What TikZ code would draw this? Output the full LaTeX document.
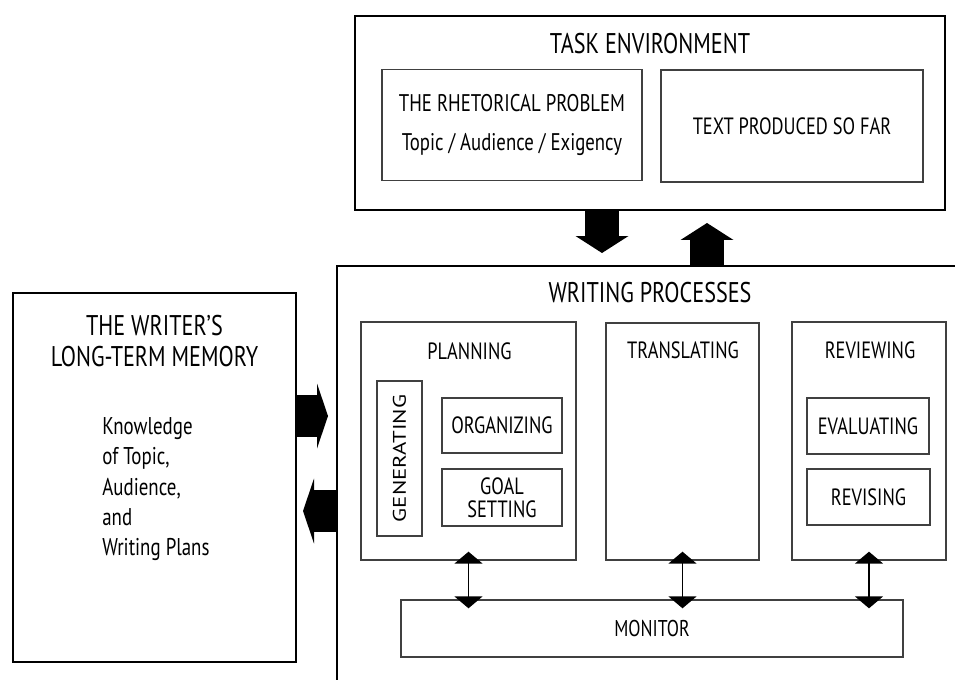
\documentclass[tikz,border=0pt]{standalone}
\usepackage{fontspec}
\setmainfont[FakeStretch=0.78]{PT Sans}
\newfontfamily\uprightfont{PT Sans}
\usetikzlibrary{arrows.meta}

\tikzset{
  bigbox/.style={draw, line width=1.5pt, inner sep=0pt},
  subbox/.style={draw=black!75, line width=0.8pt, inner sep=0pt, align=center},
  headtext/.style={inner sep=0pt, align=center, font=\fontsize{16.2}{18.1}\selectfont},
  boxtext/.style={font=\fontsize{13.4}{13.2}\selectfont},
  vblock/.style={line width=0.68cm, -{Triangle[length=0.34cm, width=1.06cm, line width=0pt]}},
  hblock/.style={line width=0.84cm, -{Triangle[length=0.22cm, width=1.3cm, line width=0pt]}},
  dblarrow/.style={line width=1.1pt, {Triangle[length=0.24cm, width=0.56cm]}-{Triangle[length=0.24cm, width=0.56cm]},
    shorten <=-0.18cm, shorten >=-0.18cm}
}

\begin{document}
\begin{tikzpicture}[x=0.02cm, y=-0.02cm]
  \useasboundingbox (0,0) rectangle (955,679);

  % task environment
  \node[bigbox, minimum width=11.8cm, minimum height=3.88cm] (task) at (650,113) {};
  \node[headtext] (task title) at (650,44) {TASK ENVIRONMENT};
  \node[subbox, minimum width=5.2cm, minimum height=2.22cm, font=\fontsize{13.7}{22.1}\selectfont] (rhetoric) at (512,125)
    {THE RHETORICAL PROBLEM\\Topic / Audience / Exigency};
  \node[subbox, boxtext, minimum width=5.24cm, minimum height=2.24cm] (text so far) at (792,126) {TEXT PRODUCED SO FAR};

  % long-term memory
  \node[bigbox, minimum width=5.66cm, minimum height=7.38cm] (memory) at (154.5,477.5) {};
  \node[headtext] (memory title) at (154.5,341) {THE WRITER’S\\LONG-TERM MEMORY};
  \node[inner sep=0pt, anchor=north west, align=left, font=\fontsize{13.8}{17.3}\selectfont] (knowledge) at (102,417)
    {Knowledge\\of Topic,\\Audience,\\and\\Writing Plans};

  % writing processes
  \node[bigbox, minimum width=13.26cm, minimum height=9.08cm] (writing) at (668.5,493) {};
  \node[headtext] (writing title) at (650,293) {WRITING PROCESSES};

  \node[subbox, minimum width=4.3cm, minimum height=4.76cm] (planning) at (468.5,441) {};
  \node[boxtext] (planning title) at (469.5,351) {PLANNING};
  \node[subbox, rotate=90, minimum width=3.1cm, minimum height=0.9cm] (generating) at (399.5,458.5)
    {\uprightfont\fontsize{13}{13}\selectfont\scalebox{1}[0.8]{GENERATING}};
  \node[subbox, boxtext, minimum width=2.4cm, minimum height=1.1cm] (organizing) at (502,425.5) {ORGANIZING};
  \node[subbox, boxtext, minimum width=2.4cm, minimum height=1.14cm] (goal) at (502,497.5) {GOAL\\SETTING};

  \node[subbox, minimum width=3.06cm, minimum height=4.74cm] (translating) at (682.5,441.5) {};
  \node[boxtext] (translating title) at (683,350) {TRANSLATING};

  \node[subbox, minimum width=3.08cm, minimum height=4.76cm] (reviewing) at (869,441) {};
  \node[boxtext] (reviewing title) at (870,350) {REVIEWING};
  \node[subbox, boxtext, minimum width=2.44cm, minimum height=1.12cm] (evaluating) at (868,426) {EVALUATING};
  \node[subbox, boxtext, minimum width=2.46cm, minimum height=1.12cm] (revising) at (868.5,497) {REVISING};

  \node[subbox, minimum width=10.04cm, minimum height=1.14cm, font=\fontsize{13}{13}\selectfont] (monitor) at (652,628.5) {MONITOR};

  % block arrows between the three parts
  \coordinate (down tip) at (602,253);
  \coordinate (up tip) at (707,223);
  \coordinate (right tip) at (328,416);
  \coordinate (left tip) at (303,511);
  \draw[vblock] (down tip |- task.south) -- (down tip);
  \draw[vblock] (up tip |- writing.north) -- (up tip);
  \draw[hblock] (right tip -| memory.east) -- (right tip);
  \draw[hblock] (left tip -| writing.west) -- (left tip);

  % links to the monitor
  \draw[dblarrow] (planning.south) -- (planning.south |- monitor.north);
  \draw[dblarrow] (translating.south) -- (translating.south |- monitor.north);
  \draw[dblarrow] (reviewing.south) -- (reviewing.south |- monitor.north);
\end{tikzpicture}
\end{document}
